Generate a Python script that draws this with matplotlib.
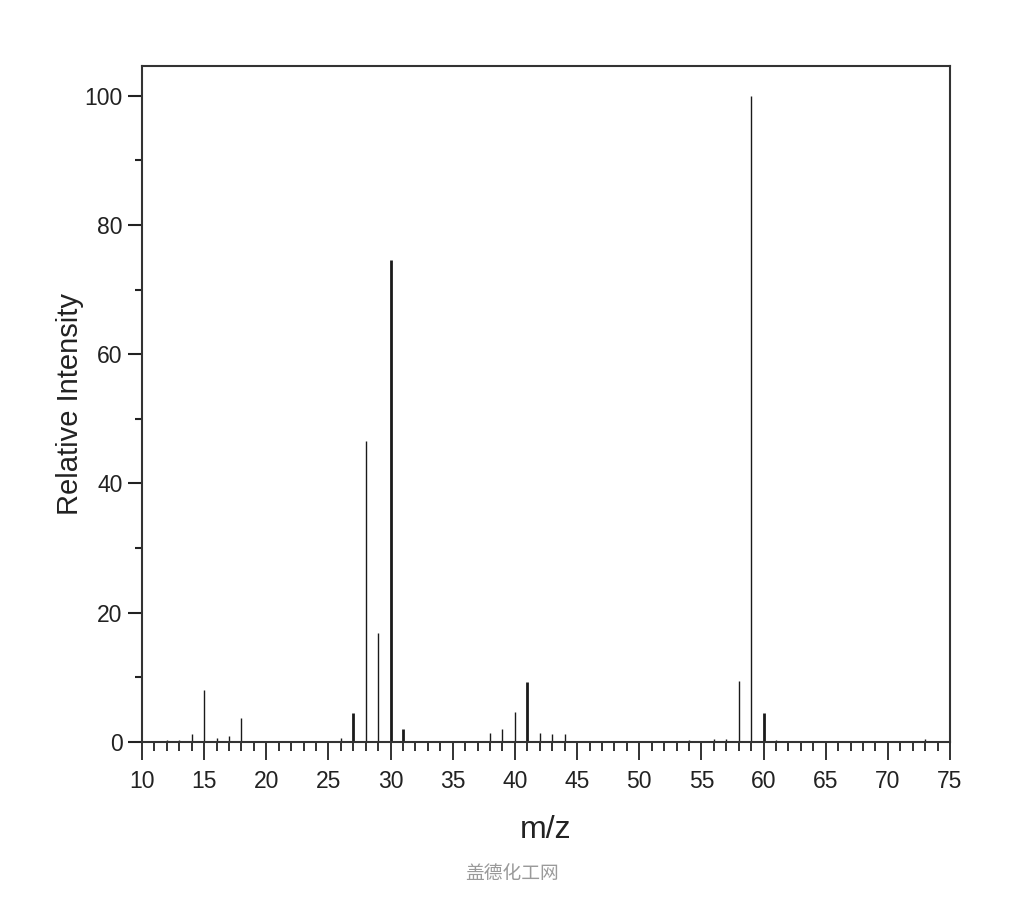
import matplotlib
matplotlib.use("Agg")
import matplotlib.pyplot as plt
from matplotlib.ticker import MultipleLocator

# ---- data ----
mz = [12, 13, 14, 15, 16, 17, 18, 26, 27, 28, 29, 30, 31,
      38, 39, 40, 41, 42, 43, 44, 54, 56, 57, 58, 59, 60, 61, 73]
intensity = [0.3, 0.3, 1.2, 8.1, 0.6, 0.9, 3.7, 0.6, 4.5, 46.6, 16.8, 74.6, 2.0,
             1.4, 2.0, 4.7, 9.3, 1.4, 1.2, 1.2, 0.3, 0.5, 0.4, 9.5, 100.0, 4.5, 0.3, 0.4]
x_ticks = [10, 15, 20, 25, 30, 35, 40, 45, 50, 55, 60, 65, 70, 75]
y_ticks = [0, 20, 40, 60, 80, 100]

# ---- style ----
thick = {27, 30, 31, 41, 60}
ink = "#1a1a1a"
plt.rcParams['font.family'] = ['Liberation Sans', 'DejaVu Sans']

fig = plt.figure(figsize=(10.24, 9.0), dpi=100)
ax = fig.add_axes([142/1024, 1-742/900, (950-142)/1024, (742-66)/900])

for m, v in zip(mz, intensity):
    ax.vlines(m, 0, v, color=ink, linewidth=2.0 if m in thick else 1.0)

ax.set_xlim(10, 75)
ax.set_ylim(0, 104.6)
ax.set_xticks(x_ticks)
ax.set_yticks(y_ticks)
ax.xaxis.set_minor_locator(MultipleLocator(1))
ax.yaxis.set_minor_locator(MultipleLocator(10))

for s in ax.spines.values():
    s.set_color("#333333")
    s.set_linewidth(1.5)

ax.tick_params(axis='x', which='major', direction='out', length=13, width=1.3,
               pad=7, labelsize=16.5, colors="#222222")
ax.tick_params(axis='x', which='minor', direction='out', length=6.5, width=1.3, colors="#222222")
ax.tick_params(axis='y', which='major', direction='out', length=10, width=1.5,
               pad=4, labelsize=16.5, colors="#222222")
ax.tick_params(axis='y', which='minor', direction='out', length=5, width=1.5, colors="#222222")

ax.set_ylabel("Relative Intensity", fontsize=21, color="#222222", labelpad=0)
ax.set_xlabel("m/z", fontsize=23, color="#222222", labelpad=16)

fig.text(512/1024, 1-874/900, "盖德化工网", ha='center', va='center', fontsize=13.5,
         color="#9a9a9a", family=['Noto Sans CJK SC', 'DejaVu Sans'])

fig.savefig("out.png", dpi=100)
